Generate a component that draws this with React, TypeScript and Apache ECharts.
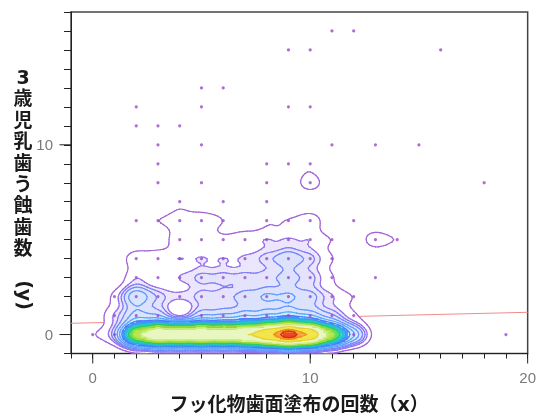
import { useEffect, useRef } from 'react';
import * as echarts from 'echarts';

// x: number of fluoride applications
const applications = [0, 1, 2, 3, 4, 5, 6, 7, 8, 9, 10, 11, 12, 13, 14, 15, 16, 17, 18, 19];
// y: number of decayed primary teeth at age 3
const cariesValues = [0, 1, 2, 3, 4, 5, 6, 7, 8, 9, 10, 11, 12, 13, 14, 15, 16];

// number of children at each (applications, caries) cell, one array per caries count
const childrenCaries0 = [1, 2, 22, 32, 30, 32, 30, 32, 40, 55, 42, 20, 6, 0, 0, 0, 0, 0, 0, 1];
const childrenCaries1 = [0, 2, 5, 4, 0, 4, 4, 5, 5, 6, 5, 3, 1, 0, 0, 0, 0, 0, 0, 0];
const childrenCaries2 = [0, 1, 7, 3, 2, 3, 3, 4, 5, 5, 4, 2, 1, 0, 0, 0, 0, 0, 0, 0];
const childrenCaries3 = [0, 0, 2, 1, 2, 3, 3, 3, 3, 4, 3, 1, 0, 1, 0, 0, 0, 0, 0, 0];
const childrenCaries4 = [0, 0, 2, 2, 2, 2, 2, 2, 3, 5, 3, 1, 0, 0, 0, 0, 0, 0, 0, 0];
const childrenCaries5 = [0, 0, 0, 0, 2, 2, 1, 2, 2, 2, 2, 1, 0, 2, 1, 0, 0, 0, 0, 0];
const childrenCaries6 = [0, 0, 1, 1, 2, 2, 1, 0, 1, 1, 2, 0, 1, 0, 0, 0, 0, 0, 0, 0];
const childrenCaries7 = [0, 0, 0, 0, 1, 0, 1, 0, 1, 0, 0, 0, 0, 0, 0, 0, 0, 0, 0, 0];
const childrenCaries8 = [0, 0, 0, 1, 0, 1, 0, 0, 1, 0, 2, 0, 0, 0, 0, 0, 0, 0, 1, 0];
const childrenCaries9 = [0, 0, 0, 1, 0, 0, 0, 0, 1, 1, 1, 0, 0, 0, 0, 0, 0, 0, 0, 0];
const childrenCaries10 = [0, 0, 0, 1, 0, 1, 0, 0, 0, 0, 0, 1, 0, 1, 0, 1, 0, 0, 0, 0];
const childrenCaries11 = [0, 0, 1, 1, 1, 0, 0, 0, 0, 0, 0, 0, 0, 0, 0, 0, 0, 0, 0, 0];
const childrenCaries12 = [0, 0, 1, 0, 0, 1, 0, 0, 0, 1, 1, 0, 0, 0, 0, 0, 0, 0, 0, 0];
const childrenCaries13 = [0, 0, 0, 0, 0, 1, 1, 0, 0, 0, 0, 0, 0, 0, 0, 0, 0, 0, 0, 0];
const childrenCaries14 = [0, 0, 0, 0, 0, 0, 0, 0, 0, 0, 0, 0, 0, 0, 0, 0, 0, 0, 0, 0];
const childrenCaries15 = [0, 0, 0, 0, 0, 0, 0, 0, 0, 1, 1, 0, 0, 0, 0, 0, 1, 0, 0, 0];
const childrenCaries16 = [0, 0, 0, 0, 0, 0, 0, 0, 0, 0, 0, 1, 1, 0, 0, 0, 0, 0, 0, 0];

const cariesRows = [
  childrenCaries0, childrenCaries1, childrenCaries2, childrenCaries3, childrenCaries4,
  childrenCaries5, childrenCaries6, childrenCaries7, childrenCaries8, childrenCaries9,
  childrenCaries10, childrenCaries11, childrenCaries12, childrenCaries13, childrenCaries14,
  childrenCaries15, childrenCaries16,
];

// fitted line y = a + b x
const regressionIntercept = 0.62;
const regressionSlope = 0.0276;

const xMajorTicks = [0, 10, 20];
const yMajorTicks = [0, 10];

const xTitle = 'フッ化物歯面塗布の回数（x）';
const yTitleChars = ['3', '歳', '児', '乳', '歯', 'う', '蝕', '歯', '数'];
const yTitleUnit = '(y)';

// density contour levels
const densityLevels = [1.35, 2.6, 3.4, 4.4, 6.0, 7.8, 10, 12.5, 15, 18, 22, 28, 40, 52, 58];

const FILL = ['#ffffff', '#ebe6fb', '#e4e3fb', '#dde2fc', '#d6e5fd', '#cfe9fd', '#5c8cff', '#42b2fb', '#34d6dc', '#48e070', '#b4e84a', '#e8f6c0', '#f3e447', '#f7a035', '#ec4222'];
const LINE = ['#a464d8', '#9570ea', '#837af6', '#7287fc', '#6298ff', '#54a8ff', '#4a7cf8', '#30a0f0', '#22c4c8', '#30c860', '#98d838', '#d0ea88', '#e8d030', '#f08a20', '#d83010'];

const X_MIN = -1, X_MAX = 20, Y_MIN = -1, Y_MAX = 17;
const HX = 0.47, HY = 0.4, STEP = 0.125;

function buildAll() {
  const nx = Math.round((X_MAX - X_MIN) / STEP) + 1;
  const ny = Math.round((Y_MAX - Y_MIN) / STEP) + 1;
  const g = new Float64Array(nx * ny);
  const pts: number[][] = [];
  cariesRows.forEach((row, yi) => row.forEach((n, xi) => {
    if (n > 0) pts.push([applications[xi], cariesValues[yi], n]);
  }));
  for (const [px, py, n] of pts) {
    for (let j = 0; j < ny; j++) {
      const y = Y_MIN + j * STEP;
      const dy = y - py;
      const wy = Math.exp(-dy * dy / (2 * HY * HY));
      if (wy < 1e-5) continue;
      for (let i = 0; i < nx; i++) {
        const x = X_MIN + i * STEP;
        const dx = x - px;
        g[j * nx + i] += n * wy * Math.exp(-dx * dx / (2 * HX * HX));
      }
    }
  }
  const segs: number[][] = [];
  for (let l = 0; l < densityLevels.length; l++) {
    const L = densityLevels[l];
    for (let j = 0; j < ny - 1; j++) {
      for (let i = 0; i < nx - 1; i++) {
        const v0 = g[j * nx + i], v1 = g[j * nx + i + 1], v2 = g[(j + 1) * nx + i + 1], v3 = g[(j + 1) * nx + i];
        let c = 0;
        if (v0 > L) c |= 1;
        if (v1 > L) c |= 2;
        if (v2 > L) c |= 4;
        if (v3 > L) c |= 8;
        if (c === 0 || c === 15) continue;
        const x0 = X_MIN + i * STEP, y0 = Y_MIN + j * STEP, x1 = x0 + STEP, y1 = y0 + STEP;
        const B = [x0 + STEP * (L - v0) / (v1 - v0), y0];
        const R = [x1, y0 + STEP * (L - v1) / (v2 - v1)];
        const T = [x0 + STEP * (L - v3) / (v2 - v3), y1];
        const Lf = [x0, y0 + STEP * (L - v0) / (v3 - v0)];
        const center = (v0 + v1 + v2 + v3) / 4;
        const add = (a: number[], b: number[]) => segs.push([a[0], a[1], b[0], b[1], l]);
        switch (c) {
          case 1: add(Lf, B); break;
          case 2: add(B, R); break;
          case 3: add(Lf, R); break;
          case 4: add(R, T); break;
          case 5: if (center > L) { add(Lf, T); add(B, R); } else { add(Lf, B); add(R, T); } break;
          case 6: add(B, T); break;
          case 7: add(Lf, T); break;
          case 8: add(Lf, T); break;
          case 9: add(B, T); break;
          case 10: if (center > L) { add(Lf, B); add(R, T); } else { add(Lf, T); add(B, R); } break;
          case 11: add(R, T); break;
          case 12: add(Lf, R); break;
          case 13: add(B, R); break;
          case 14: add(Lf, B); break;
        }
      }
    }
  }
  const cells: number[][] = [];
  for (let j = 0; j < ny - 1; j++) {
    let runStart = -1, runLvl = -1;
    for (let i = 0; i <= nx - 1; i++) {
      let lvl = -1;
      if (i < nx - 1) {
        const v = (g[j * nx + i] + g[j * nx + i + 1] + g[(j + 1) * nx + i + 1] + g[(j + 1) * nx + i]) / 4;
        for (let k = densityLevels.length - 1; k >= 0; k--) { if (v > densityLevels[k]) { lvl = k; break; } }
      }
      if (lvl !== runLvl) {
        if (runLvl >= 0) {
          cells.push([X_MIN + runStart * STEP, Y_MIN + j * STEP, X_MIN + i * STEP, Y_MIN + (j + 1) * STEP, runLvl]);
        }
        runStart = i; runLvl = lvl;
      }
    }
  }
  const densAt = (x: number, y: number) => {
    const i = Math.round((x - X_MIN) / STEP), j = Math.round((y - Y_MIN) / STEP);
    return g[j * nx + i];
  };
  return { pts, segs, cells, densAt };
}

export default function App() {
  const ref = useRef<HTMLDivElement>(null);
  useEffect(() => {
    if (!ref.current) return;
    const chart = echarts.init(ref.current, undefined, { renderer: 'svg' });
    const { pts, segs, cells, densAt } = buildAll();
    const labelFont = 'Liberation Sans, Arial, sans-serif';
    const cjk = '"DejaVu Sans", "Noto Sans CJK JP", sans-serif';
    const titleStyle = { font: `bold 19px ${cjk}`, fill: '#1a1a1a', textAlign: 'center', textVerticalAlign: 'middle' };
    chart.setOption({
      animation: false,
      grid: { left: 71, right: 11, top: 12, bottom: 62.5, show: true, borderColor: '#444', borderWidth: 1.5, backgroundColor: 'transparent' },
      xAxis: {
        type: 'value', min: X_MIN, max: X_MAX, interval: 1, position: 'bottom',
        axisLine: { show: true, onZero: false, lineStyle: { color: '#222', width: 1 } },
        axisTick: { show: true, length: 5, lineStyle: { color: '#222' } },
        axisLabel: { formatter: (v: number) => (xMajorTicks.includes(Math.round(v)) ? String(Math.round(v)) : ''), color: '#7a7a7a', fontSize: 15, fontFamily: labelFont, margin: 16 },
        splitLine: { show: false },
      },
      yAxis: {
        type: 'value', min: Y_MIN, max: Y_MAX, interval: 1, position: 'left',
        axisLine: { show: true, onZero: false, lineStyle: { color: '#222', width: 1 } },
        axisTick: { show: true, length: 7, lineStyle: { color: '#222' } },
        axisLabel: { formatter: (v: number) => (yMajorTicks.includes(Math.round(v)) ? String(Math.round(v)) : ''), color: '#7a7a7a', fontSize: 15, fontFamily: labelFont, margin: 18 },
        splitLine: { show: false },
      },
      series: [
        {
          type: 'line', z: 1, silent: true, showSymbol: false, symbol: 'none',
          data: [[X_MIN, regressionIntercept + regressionSlope * X_MIN], [X_MAX, regressionIntercept + regressionSlope * X_MAX]],
          lineStyle: { color: '#ef8c8c', width: 1 },
        },
        {
          type: 'custom', z: 2, silent: true, clip: true,
          encode: { x: [0, 2], y: [1, 3] },
          data: cells,
          renderItem: (_p: any, api: any) => {
            const a = api.coord([api.value(0), api.value(3)]);
            const b = api.coord([api.value(2), api.value(1)]);
            return { type: 'rect', shape: { x: a[0] - 0.3, y: a[1] - 0.3, width: b[0] - a[0] + 0.6, height: b[1] - a[1] + 0.6 }, style: { fill: FILL[api.value(4)] } };
          },
        },
        {
          type: 'custom', z: 3, silent: true, clip: true,
          encode: { x: [0, 2], y: [1, 3] },
          data: segs,
          renderItem: (_p: any, api: any) => {
            const a = api.coord([api.value(0), api.value(1)]);
            const b = api.coord([api.value(2), api.value(3)]);
            return { type: 'line', shape: { x1: a[0], y1: a[1], x2: b[0], y2: b[1] }, style: { stroke: LINE[api.value(4)], lineWidth: 1.2, lineCap: 'round' } };
          },
        },
        {
          type: 'scatter', z: 4, silent: true, symbolSize: 3.2,
          data: pts.map((p) => [p[0], p[1]]),
          itemStyle: {
            color: (p: any) => (densAt(p.data[0], p.data[1]) > densityLevels[7] ? 'rgba(0,0,0,0)' : '#9a48c8'),
          },
        },
        {
          type: 'custom', z: 5, silent: true, clip: false,
          encode: { x: 0, y: 1 },
          data: xMajorTicks.map((v) => [v, Y_MIN]),
          renderItem: (_p: any, api: any) => {
            const c = api.coord([api.value(0), api.value(1)]);
            return { type: 'line', shape: { x1: c[0], y1: c[1], x2: c[0], y2: c[1] + 10 }, style: { stroke: '#222', lineWidth: 1 } };
          },
        },
        {
          type: 'custom', z: 5, silent: true, clip: false,
          encode: { x: 0, y: 1 },
          data: yMajorTicks.map((v) => [X_MIN, v]),
          renderItem: (_p: any, api: any) => {
            const c = api.coord([api.value(0), api.value(1)]);
            return { type: 'line', shape: { x1: c[0], y1: c[1], x2: c[0] - 11.5, y2: c[1] }, style: { stroke: '#222', lineWidth: 1 } };
          },
        },
      ],
      graphic: [
        { type: 'text', x: 299, y: 404, silent: true, style: { ...titleStyle, text: xTitle } },
        ...yTitleChars.map((ch, i) => ({ type: 'text', x: 23, y: 77 + 21.4 * i, silent: true, style: { ...titleStyle, text: ch } })),
        { type: 'text', x: 25, y: 295, rotation: -Math.PI / 2, silent: true, style: { ...titleStyle, text: yTitleUnit } },
      ],
    });
    return () => chart.dispose();
  }, []);
  return <div ref={ref} style={{ position: 'fixed', left: 0, top: 0, width: 539, height: 416 }} />;
}
